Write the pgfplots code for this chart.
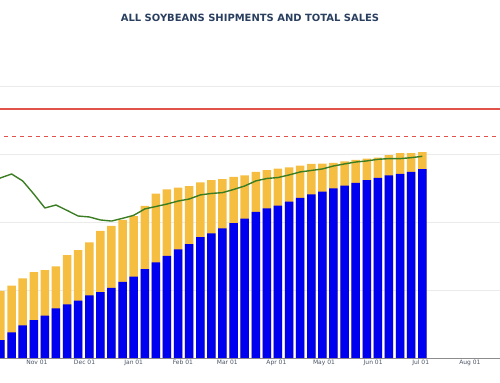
\documentclass[border=0pt]{standalone}
\usepackage{pgfplots}
\pgfplotsset{compat=1.18}
\usepackage{pgfplotstable}
\usepackage{fontspec}
\setmainfont{DejaVu Sans}
\definecolor{ylw}{HTML}{F5BE41}
\definecolor{blu}{HTML}{0000F0}
\definecolor{grn}{HTML}{3A7D22}
\definecolor{redl}{HTML}{E0524A}
\definecolor{ttl}{HTML}{2A3F5F}
\definecolor{tck}{HTML}{4A5466}
\definecolor{grd}{HTML}{EBEBEB}

\pgfplotstableread{
d total ship
38 493 132
45 532 189
52 586 240
59 632 279
66 647 311
73 674 365
80 757 395
87 794 421
94 851 460
101 934 485
108 971 515
115 1015 559
122 1044 599
129 1119 654
136 1208 704
143 1239 750
150 1252 799
157 1263 838
164 1292 888
171 1307 917
178 1316 954
185 1331 991
192 1343 1024
199 1368 1074
206 1382 1101
213 1392 1120
220 1402 1149
227 1414 1178
234 1427 1204
241 1429 1223
248 1434 1248
255 1446 1267
262 1456 1287
269 1466 1307
276 1473 1324
283 1491 1343
290 1507 1353
297 1507 1368
304 1513 1388
}\bars

\pgfplotstableread{
d avg
31 1287
38 1324
45 1353
52 1302
59 1206
66 1103
73 1125
80 1085
87 1044
94 1037
101 1015
108 1007
115 1027
122 1049
129 1096
136 1114
143 1132
150 1154
157 1169
164 1199
171 1210
178 1216
185 1239
192 1265
199 1302
206 1320
213 1327
220 1346
227 1368
234 1379
241 1390
248 1412
255 1427
262 1441
269 1449
276 1461
283 1466
290 1466
297 1473
304 1483
}\avgline

\begin{document}
\begin{tikzpicture}
\begin{axis}[
  scale only axis, width=500bp, height=299.2bp,
  xmin=37.7, xmax=353, ymin=0, ymax=2200,
  axis x line*=bottom, axis y line*=left,
  x axis line style={draw=black!45, line width=0.8pt, -},
  y axis line style={draw=none},
  xtick={61,91,122,153,181,212,242,273,303,334},
  xticklabels={Nov 01,Dec 01,Jan 01,Feb 01,Mar 01,Apr 01,May 01,Jun 01,Jul 01,Aug 01},
  xticklabel style={font=\fontsize{6}{7}\selectfont, text=tck, inner sep=1.5bp},
  major tick length=0pt,
  ytick={500,1000,1500,2000}, yticklabels={},
  ymajorgrids, grid style={draw=grd, line width=0.7pt},
  title={ALL SOYBEANS SHIPMENTS AND TOTAL SALES},
  title style={font=\bfseries\fontsize{10}{12}\selectfont, text=ttl, at={(0.5,1)}, anchor=center, yshift=34.8bp},
  clip=true,
]
\coordinate (ll) at (rel axis cs:0,0);
\coordinate (ur) at (rel axis cs:1,1);
\addplot[fill=redl, draw=none, mark=none] coordinates {(20,1824) (360,1824) (360,1837) (20,1837)} -- cycle;
\addplot[color=redl, line width=1.1bp, mark=none, dash pattern=on 4bp off 4bp] coordinates {(20,1628) (360,1628)};
\addplot[ybar, bar width=8.5bp, bar shift=0pt, fill=ylw, draw=none] table[x=d, y=total] {\bars};
\addplot[ybar, bar width=8.5bp, bar shift=0pt, fill=blu, draw=none] table[x=d, y=ship] {\bars};
\addplot[draw=grn, line width=1.4pt, line join=round, mark=none] table[x=d, y=avg] {\avgline};
\end{axis}
\pgfresetboundingbox
\path[use as bounding box] ([yshift=-25bp]ll) rectangle ([yshift=58.8bp]ur);
\end{tikzpicture}
\end{document}
